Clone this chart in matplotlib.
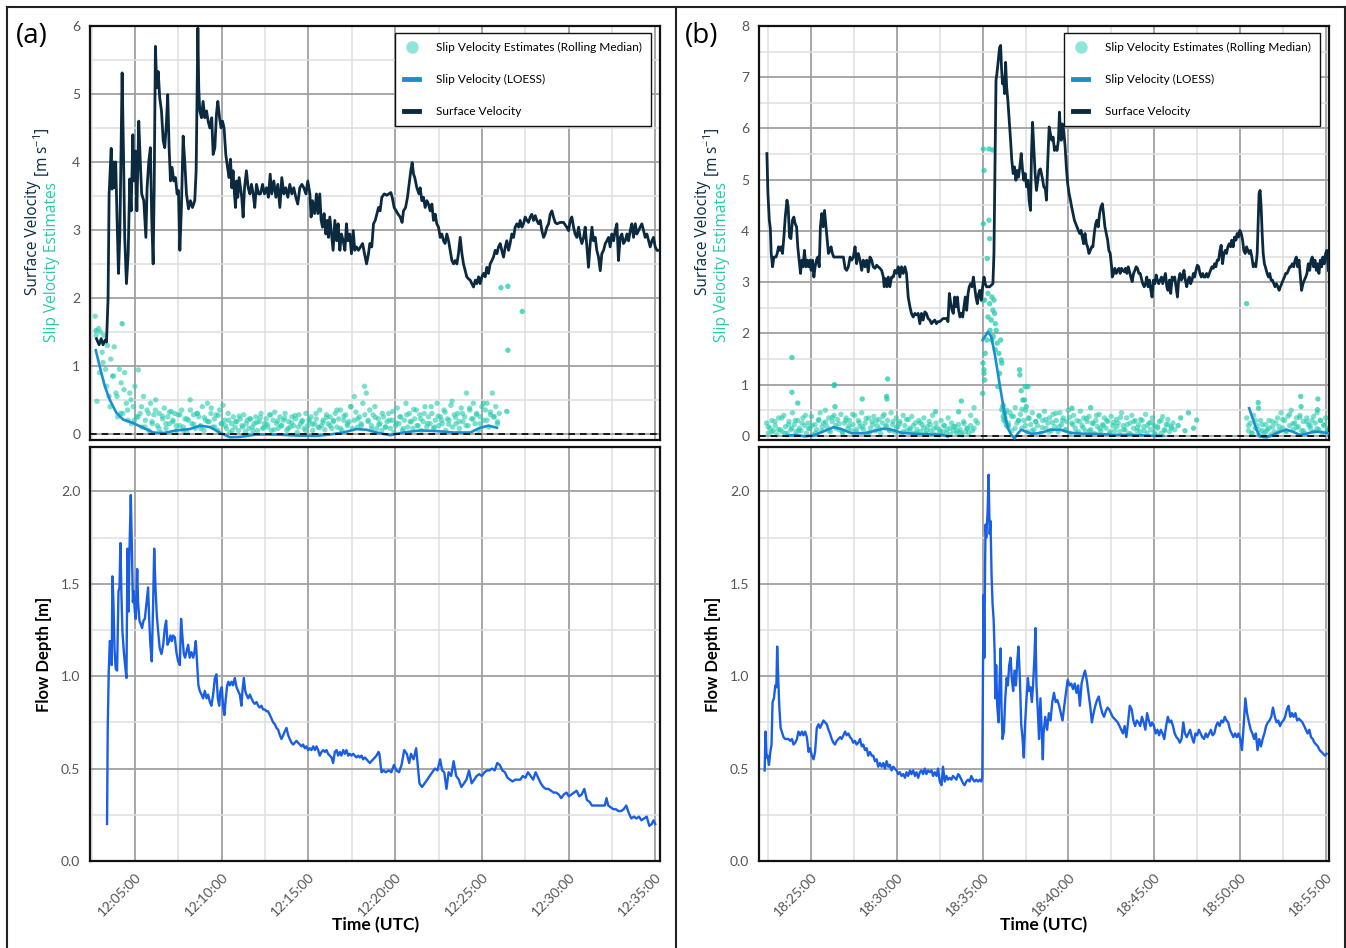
import numpy as np
import matplotlib
matplotlib.use("Agg")
import matplotlib.pyplot as plt
from matplotlib.ticker import MultipleLocator, FuncFormatter, FormatStrFormatter
from matplotlib.lines import Line2D

plt.rcParams['font.family'] = ['Lato', 'DejaVu Sans']
plt.rcParams['mathtext.fontset'] = 'custom'
plt.rcParams['mathtext.rm'] = 'Open Sans'

# ---------------- data (time = minutes after the full hour) ----------------
# panel (a): 12:xx
a_sv_t = [2.77, 2.92, 3.04, 3.15, 3.27, 3.35, 3.44, 3.50, 3.62, 3.67,
          3.77, 3.83, 3.88, 3.96, 4.04, 4.12, 4.25, 4.33, 4.40, 4.50,
          4.60, 4.69, 4.77, 4.87, 4.94, 5.02, 5.10, 5.21, 5.31, 5.38,
          5.50, 5.62, 5.69, 5.79, 5.88, 5.96, 6.04, 6.10, 6.17, 6.25,
          6.33, 6.42, 6.52, 6.62, 6.71, 6.81, 6.88, 6.96, 7.04, 7.13,
          7.23, 7.33, 7.42, 7.50, 7.58, 7.67, 7.77, 7.87, 7.96, 8.08,
          8.19, 8.31, 8.44, 8.52, 8.58, 8.62, 8.67, 8.73, 8.83, 8.92,
          9.02, 9.12, 9.21, 9.31, 9.42, 9.50, 9.60, 9.69, 9.77, 9.87,
          9.96, 10.04, 10.13, 10.23, 10.33, 10.42, 10.50, 10.58, 10.65, 10.73,
          10.79, 10.85, 10.92, 11.00, 11.08, 11.15, 11.23, 11.31, 11.42, 11.52,
          11.62, 11.71, 11.81, 11.90, 12.00, 12.12, 12.23, 12.35, 12.46, 12.58,
          12.69, 12.79, 12.88, 13.00, 13.12, 13.23, 13.35, 13.46, 13.58, 13.69,
          13.81, 13.92, 14.04, 14.15, 14.27, 14.38, 14.50, 14.62, 14.73, 14.85,
          14.96, 15.08, 15.15, 15.23, 15.35, 15.46, 15.54, 15.65, 15.73, 15.81,
          15.90, 16.00, 16.08, 16.15, 16.23, 16.33, 16.42, 16.52, 16.62, 16.71,
          16.81, 16.90, 17.00, 17.10, 17.19, 17.27, 17.38, 17.48, 17.58, 17.67,
          17.77, 17.88, 18.00, 18.12, 18.23, 18.35, 18.46, 18.54,
          18.65, 18.75, 18.85, 18.94, 19.04, 19.13, 19.23, 19.37, 19.52, 19.63,
          19.75, 19.83, 19.94, 20.06, 20.17, 20.29, 20.40, 20.48, 20.60, 20.71,
          20.83, 20.90, 20.98, 21.06, 21.13, 21.25, 21.37, 21.44, 21.54, 21.63,
          21.73, 21.83, 21.92, 22.02, 22.12, 22.21, 22.31, 22.40, 22.50, 22.60,
          22.69, 22.79, 22.88, 22.98, 23.08, 23.17, 23.27, 23.37, 23.46, 23.56,
          23.65, 23.75, 23.85, 23.94, 24.04, 24.13, 24.23, 24.33, 24.42, 24.52,
          24.62, 24.71, 24.81, 24.90, 25.00, 25.10, 25.19, 25.29, 25.38, 25.48,
          25.58, 25.67, 25.77, 25.87, 25.96, 26.06, 26.15, 26.25, 26.35, 26.44,
          26.54, 26.63, 26.73, 26.83, 26.92, 27.02, 27.12, 27.21, 27.31, 27.40,
          27.50, 27.60, 27.69, 27.79, 27.88, 27.98, 28.08, 28.17, 28.27, 28.37,
          28.46, 28.56, 28.65, 28.75, 28.85, 28.94, 29.04, 29.13, 29.23, 29.33,
          29.52, 29.71, 29.90, 30.00, 30.10, 30.19, 30.29, 30.38, 30.48, 30.58,
          30.67, 30.77, 30.87, 30.96, 31.06, 31.15, 31.25, 31.35, 31.44, 31.54,
          31.63, 31.73, 31.83, 31.92, 32.02, 32.12, 32.21, 32.31, 32.40, 32.50,
          32.60, 32.69, 32.79, 32.88, 32.98, 33.08, 33.17, 33.27, 33.37, 33.46,
          33.56, 33.65, 33.75, 33.85, 33.94, 34.04, 34.13, 34.23, 34.33, 34.42,
          34.52, 34.62, 34.71, 34.81, 34.90, 35.00, 35.10, 35.25]
a_sv = [1.40, 1.31, 1.40, 1.31, 1.38, 1.35, 2.00, 3.53, 4.20, 3.60,
        4.00, 3.62, 4.00, 3.14, 2.36, 2.94, 5.31, 4.11, 2.89, 2.21,
        2.65, 3.75, 3.28, 4.40, 3.72, 4.16, 3.28, 4.60, 3.92, 3.53,
        3.43, 2.89, 3.62, 4.01, 4.21, 3.14, 2.50, 3.62, 5.70, 5.09,
        5.33, 4.94, 4.75, 4.31, 4.21, 4.60, 4.99, 4.21, 3.72, 3.92,
        3.72, 3.77, 3.53, 3.58, 2.70, 3.33, 4.38, 3.97, 3.53, 3.31,
        3.43, 3.33, 3.43, 3.87, 5.09, 5.97, 5.09, 4.75, 4.65, 4.89,
        4.65, 4.75, 4.60, 4.50, 4.65, 4.11, 4.21, 4.70, 4.89, 4.65,
        4.50, 4.60, 4.50, 4.11, 3.92, 3.77, 4.04, 3.62, 3.87, 3.53,
        3.33, 3.72, 3.48, 3.77, 3.62, 3.48, 3.19, 3.62, 3.87, 3.62,
        3.53, 3.67, 3.53, 3.33, 3.67, 3.53, 3.53, 3.67, 3.53, 3.62,
        3.48, 3.82, 3.53, 3.72, 3.48, 3.67, 3.33, 3.77, 3.53, 3.62,
        3.48, 3.67, 3.53, 3.62, 3.48, 3.38, 3.62, 3.67, 3.62, 3.53,
        3.72, 3.53, 3.19, 3.43, 3.24, 3.53, 3.24, 3.53, 3.14, 3.04,
        3.24, 2.94, 3.14, 2.89, 3.19, 2.94, 2.70, 3.14, 2.84, 3.09,
        2.70, 2.94, 2.84, 2.70, 3.09, 2.84, 2.94, 2.65, 2.99, 2.70,
        2.75, 2.70, 2.75, 2.80, 2.65, 2.50, 2.65, 2.80,
        2.75, 3.09, 3.14, 3.23, 3.33, 3.28, 3.48, 3.53, 3.51, 3.53,
        3.55, 3.48, 3.33, 3.28, 3.23, 3.19, 3.11, 3.28, 3.33, 3.48,
        3.72, 3.87, 3.99, 3.82, 3.77, 3.62, 3.53, 3.62, 3.43, 3.48,
        3.33, 3.43, 3.38, 3.28, 3.38, 3.14, 3.23, 3.09, 3.04, 2.89,
        2.94, 2.84, 2.80, 2.94, 2.84, 2.70, 2.55, 2.50, 2.55, 2.50,
        2.65, 2.89, 2.65, 2.50, 2.40, 2.31, 2.28, 2.26, 2.21, 2.16,
        2.26, 2.21, 2.31, 2.21, 2.31, 2.36, 2.31, 2.45, 2.36, 2.50,
        2.55, 2.60, 2.70, 2.65, 2.75, 2.80, 2.70, 2.60, 2.75, 2.84,
        2.70, 2.80, 2.94, 2.89, 3.04, 3.09, 3.04, 3.14, 3.04, 3.09,
        3.19, 3.14, 3.11, 3.19, 3.23, 3.14, 3.21, 3.14, 3.09, 3.14,
        2.99, 2.89, 2.94, 3.04, 3.09, 3.23, 3.28, 3.19, 3.11, 3.09,
        3.11, 3.11, 3.04, 2.99, 3.14, 3.19, 3.04, 2.94, 2.89, 3.04,
        2.89, 2.80, 2.89, 3.04, 2.75, 2.45, 2.80, 3.04, 2.84, 2.89,
        2.70, 2.60, 2.40, 2.65, 2.70, 2.80, 2.84, 2.89, 2.75, 2.94,
        2.84, 2.99, 3.09, 2.55, 2.89, 2.94, 2.80, 2.84, 2.94, 2.84,
        2.99, 3.09, 2.89, 3.09, 2.94, 2.99, 3.04, 3.09, 2.99, 2.89,
        2.94, 2.84, 2.75, 2.84, 2.89, 2.75, 2.70, 2.70]

a_loess_t = [2.73, 2.96, 3.25, 3.54, 3.92, 4.31, 4.88, 5.46, 6.04, 6.62,
             7.38, 8.15, 8.73, 9.31, 9.88, 10.46, 11.04, 12.00, 13.15, 14.31,
             15.46, 16.23, 17.00, 17.77, 18.35, 18.92, 19.71, 20.48, 21.44, 22.40,
             23.37, 24.33, 24.90, 25.38, 25.87]
a_loess = [1.23, 0.99, 0.70, 0.50, 0.31, 0.21, 0.16, 0.09, 0.02, 0.01,
           0.05, 0.07, 0.12, 0.10, 0.02, -0.05, -0.045, -0.01, -0.01, -0.025,
           -0.03, -0.01, 0.02, 0.07, 0.06, 0.02, -0.02, 0.02, 0.05, 0.04,
           0.02, 0.02, 0.09, 0.12, 0.09]

# rolling-median slip estimates: evenly spaced runs (values) over a time span
a_slip1 = [1.73, 0.48, 1.55, 1.50, 1.20, 1.45, 0.95, 1.30, 0.55, 1.10,
           0.85, 1.28, 0.60, 0.25, 0.95, 0.75, 0.30, 0.90, 0.45, 0.20,
           0.60, 0.15, 0.40, 0.70, 0.25, 0.94, 0.30, 0.10, 0.55, 0.20,
           0.35, 0.05, 0.45, 0.15, 0.28, 0.50, 0.12, 0.30, 0.02, 0.22,
           0.38, 0.08, 0.25, 0.15, 0.33, 0.18, 0.30, 0.05, 0.28, 0.12,
           0.35, 0.10, 0.22, 0.02, 0.20, 0.50, 0.15, 0.28, 0.08, 0.30,
           0.25, 0.12, 0.40, 0.05, 0.20, 0.45, 0.18, 0.30, 0.10, 0.22,
           0.28, 0.05, 0.35, 0.15, 0.42, 0.20, 0.08, 0.30, 0.02, 0.15,
           0.25, 0.10, 0.18, 0.05, 0.22, 0.12, 0.28, 0.03, 0.20, 0.08,
           0.22, 0.10, 0.15, 0.25, 0.05, 0.18, 0.30, 0.08, 0.15, 0.22,
           0.10, 0.28, 0.05, 0.20, 0.32, 0.15, 0.08, 0.25, 0.12, 0.20,
           0.30, 0.05, 0.18, 0.10, 0.25, 0.12, 0.22, 0.02, 0.28, 0.15,
           0.20, 0.08, 0.30, 0.12, 0.18, 0.25, 0.05, 0.15, 0.22, 0.10,
           0.35, 0.12, 0.20, 0.06, 0.28, 0.15, 0.25, 0.08, 0.18, 0.30,
           0.10, 0.22, 0.35, 0.05, 0.20, 0.28, 0.12, 0.18, 0.40, 0.08,
           0.20, 0.32, 0.10, 0.25, 0.15, 0.45, 0.70, 0.60, 0.20, 0.35,
           0.12, 0.28, 0.40, 0.08, 0.22, 0.15, 0.05, 0.25, 0.10, 0.18,
           0.30, 0.08, 0.20, 0.02, 0.12, 0.38, 0.15, 0.25, 0.05, 0.20,
           0.45, 0.10, 0.30, 0.18, 0.08, 0.22, 0.35, 0.12, 0.28, 0.05,
           0.18, 0.40, 0.10, 0.25, 0.15, 0.30, 0.08, 0.20, 0.45, 0.12,
           0.25, 0.15, 0.35, 0.05, 0.22, 0.20, 0.42, 0.10, 0.28, 0.15,
           0.30, 0.08, 0.38, 0.18, 0.25, 0.60, 0.12, 0.35, 0.22, 0.45,
           0.15, 0.30, 0.05, 0.25, 0.40, 0.20, 0.35, 0.45, 0.10, 0.28,
           0.60, 0.25, 0.40, 0.15, 0.30]
a_slip1_span = (2.70, 26.0)
a_slip2 = [1.45, 0.90, 1.05, 0.70, 0.40, 0.85, 0.55, 0.30, 0.65, 0.35, 0.50, 0.20,
           0.25, 0.40, 0.10, 0.30, 0.18, 0.35, 0.08, 0.26, 0.15, 0.32,
           0.20, 0.12, 0.28, 0.05, 0.22, 0.35, 0.14, 0.30, 0.08, 0.24,
           0.18, 0.38, 0.10, 0.27, 0.15,
           0.12, 0.20, 0.05, 0.18, 0.26, 0.10, 0.15, 0.22, 0.04, 0.17,
           0.24, 0.09, 0.14, 0.28, 0.06, 0.19, 0.12, 0.23, 0.08, 0.16,
           0.27, 0.10, 0.18, 0.05, 0.21, 0.14, 0.30, 0.09, 0.17, 0.24,
           0.12, 0.20, 0.35, 0.08, 0.26, 0.15, 0.40, 0.55, 0.22, 0.12,
           0.28, 0.18, 0.07, 0.24, 0.14, 0.30, 0.10, 0.20, 0.33, 0.16,
           0.25, 0.08, 0.28, 0.18, 0.36, 0.12, 0.22, 0.30, 0.15, 0.40,
           0.10, 0.26, 0.20, 0.32, 0.14, 0.48, 0.24, 0.18, 0.30, 0.12,
           0.38, 0.22, 0.28, 0.15, 0.45, 0.20, 0.32, 0.25, 0.18]
a_slip2_span = (2.75, 25.9)
a_slip_x_t = [2.75, 4.25, 26.10, 26.50, 26.50, 26.44, 27.33]
a_slip_x = [1.52, 1.62, 2.15, 2.17, 1.23, 0.33, 1.80]

a_depth_t = [3.38, 3.42, 3.48, 3.54, 3.60, 3.65, 3.69, 3.75, 3.81, 3.88,
             3.96, 4.04, 4.10, 4.15, 4.21, 4.27, 4.35, 4.42, 4.50, 4.56,
             4.62, 4.67, 4.75, 4.81, 4.87, 4.92, 4.98, 5.04, 5.12, 5.17,
             5.25, 5.33, 5.40, 5.48, 5.56, 5.65, 5.75, 5.81, 5.88, 5.96,
             6.04, 6.10, 6.17, 6.25, 6.33, 6.42, 6.52, 6.62, 6.71, 6.79,
             6.87, 6.96, 7.04, 7.12, 7.19, 7.29, 7.38, 7.48, 7.58, 7.65,
             7.73, 7.81, 7.88, 7.96, 8.06, 8.15, 8.25, 8.35, 8.42, 8.50,
             8.58, 8.65, 8.73, 8.83, 8.92, 9.02, 9.12, 9.21, 9.31, 9.40,
             9.50, 9.60, 9.69, 9.77, 9.85, 9.92, 10.00, 10.08, 10.15, 10.23,
             10.31, 10.38, 10.46, 10.56, 10.65, 10.75, 10.85, 10.94, 11.04, 11.13,
             11.19, 11.27, 11.35, 11.42, 11.52, 11.62, 11.71, 11.81, 11.90, 12.00,
             12.10, 12.19, 12.29, 12.38, 12.48, 12.58, 12.67, 12.77, 12.87, 12.96,
             13.06, 13.15, 13.25, 13.35, 13.44, 13.54, 13.63, 13.73, 13.83, 13.92,
             14.02, 14.12, 14.21, 14.31, 14.40, 14.50, 14.60, 14.69, 14.79, 14.88,
             14.98, 15.08, 15.17, 15.27, 15.37, 15.46, 15.56, 15.65, 15.75, 15.85,
             15.94, 16.04, 16.13, 16.23, 16.33, 16.42, 16.52, 16.62, 16.71, 16.81,
             16.90, 17.00, 17.10, 17.19, 17.29, 17.38, 17.48, 17.58, 17.67, 17.77,
             17.87, 17.96, 18.06, 18.15, 18.25, 18.35, 18.44, 18.54, 18.63, 18.73,
             18.83, 18.92, 19.04,
             19.09, 19.21, 19.33, 19.46, 19.63, 19.78, 19.93, 20.07, 20.22, 20.37,
             20.52, 20.67, 20.81, 20.91, 21.06, 21.21, 21.31, 21.40, 21.55, 21.70,
             21.85, 21.99, 22.14, 22.29, 22.44, 22.59, 22.71, 22.83, 22.96, 23.08,
             23.23, 23.37, 23.52, 23.67, 23.82, 23.97, 24.11, 24.26, 24.41, 24.56,
             24.70, 24.85, 25.00, 25.15, 25.30, 25.44, 25.59, 25.74, 25.89, 26.03,
             26.18, 26.33, 26.48, 26.63, 26.77, 26.92, 27.07, 27.22, 27.36, 27.51,
             27.66, 27.81, 27.96, 28.10, 28.25, 28.40, 28.55, 28.69, 28.84, 28.99,
             29.14, 29.29, 29.43, 29.58, 29.73, 29.88, 30.02, 30.17, 30.32, 30.47,
             30.62, 30.76, 30.91, 31.06, 31.21, 31.35, 31.50, 31.65, 31.80, 31.95,
             32.09, 32.19, 32.29, 32.44, 32.59, 32.73, 32.88, 33.03, 33.18, 33.33,
             33.47, 33.62, 33.77, 33.92, 34.06, 34.21, 34.36, 34.51, 34.66, 34.80,
             34.90, 35.00]
a_depth = [0.20, 0.72, 1.03, 1.19, 1.17, 1.06, 1.54, 1.40, 1.15, 1.04,
           1.03, 1.46, 1.48, 1.72, 1.44, 1.24, 1.13, 1.06, 0.99, 1.69,
           1.35, 1.66, 1.98, 1.71, 1.40, 1.46, 1.35, 1.31, 1.58, 1.40,
           1.30, 1.28, 1.26, 1.30, 1.31, 1.39, 1.48, 1.31, 1.17, 1.08,
           1.40, 1.69, 1.49, 1.33, 1.24, 1.15, 1.12, 1.17, 1.26, 1.30,
           1.17, 1.19, 1.22, 1.19, 1.22, 1.21, 1.13, 1.08, 1.06, 1.31,
           1.21, 1.12, 1.10, 1.13, 1.17, 1.10, 1.13, 1.10, 1.13, 1.19,
           1.06, 0.95, 0.92, 0.90, 0.88, 0.92, 0.88, 0.90, 0.86, 0.84,
           0.90, 0.99, 1.01, 0.88, 0.84, 0.92, 0.94, 0.83, 0.79, 0.88,
           0.95, 0.97, 0.95, 0.97, 0.95, 0.99, 0.94, 0.92, 0.90, 0.84,
           0.92, 0.99, 0.92, 0.90, 0.88, 0.90, 0.88, 0.86, 0.85, 0.86,
           0.84, 0.83, 0.84, 0.82, 0.82, 0.81, 0.81, 0.79, 0.77, 0.75,
           0.74, 0.72, 0.71, 0.68, 0.66, 0.68, 0.70, 0.72, 0.68, 0.66,
           0.64, 0.63, 0.64, 0.65, 0.64, 0.63, 0.62, 0.63, 0.61, 0.62,
           0.60, 0.61, 0.60, 0.62, 0.60, 0.62, 0.60, 0.57, 0.59, 0.60,
           0.59, 0.60, 0.58, 0.57, 0.56, 0.53, 0.59, 0.60, 0.57, 0.59,
           0.57, 0.60, 0.58, 0.60, 0.57, 0.58, 0.57, 0.58, 0.57, 0.56,
           0.57, 0.56, 0.57, 0.55, 0.56, 0.55, 0.54, 0.53, 0.54, 0.55,
           0.56, 0.57, 0.59,
           0.58, 0.48, 0.49, 0.48, 0.49, 0.48, 0.52, 0.49, 0.48, 0.52,
           0.60, 0.58, 0.53, 0.58, 0.55, 0.61, 0.51, 0.42, 0.40, 0.42,
           0.44, 0.46, 0.48, 0.50, 0.49, 0.55, 0.49, 0.48, 0.39, 0.48,
           0.46, 0.54, 0.46, 0.44, 0.40, 0.42, 0.44, 0.49, 0.42, 0.44,
           0.46, 0.47, 0.46, 0.48, 0.49, 0.49, 0.50, 0.49, 0.53, 0.52,
           0.49, 0.48, 0.45, 0.44, 0.43, 0.44, 0.44, 0.44, 0.46, 0.45,
           0.48, 0.46, 0.44, 0.48, 0.45, 0.42, 0.40, 0.39, 0.39, 0.38,
           0.37, 0.37, 0.36, 0.34, 0.36, 0.37, 0.35, 0.36, 0.37, 0.38,
           0.35, 0.36, 0.39, 0.33, 0.32, 0.30, 0.30, 0.30, 0.30, 0.30,
           0.30, 0.34, 0.30, 0.29, 0.28, 0.28, 0.27, 0.27, 0.28, 0.30,
           0.26, 0.23, 0.24, 0.23, 0.24, 0.22, 0.23, 0.24, 0.19, 0.20,
           0.22, 0.20]

# panel (b): 18:xx
b_sv_t = [22.42, 22.48, 22.56, 22.62, 22.67, 22.75, 22.83, 22.95, 23.02, 23.10,
          23.18, 23.26, 23.33, 23.41, 23.49, 23.59, 23.66, 23.74, 23.82, 23.91,
          23.99, 24.07, 24.15, 24.22, 24.30, 24.38, 24.46, 24.53, 24.61, 24.69,
          24.77, 24.84, 24.92, 25.00, 25.08, 25.16, 25.23, 25.31, 25.39, 25.47,
          25.54, 25.62, 25.70, 25.78, 25.85, 25.93, 26.01, 26.09, 26.16, 26.24,
          26.32, 26.49, 26.69, 26.88, 26.98, 27.07, 27.17, 27.27, 27.36, 27.46,
          27.56, 27.65, 27.75, 27.85, 27.95, 28.04, 28.14, 28.24, 28.33, 28.43,
          28.53, 28.62, 28.72, 28.82, 28.91, 29.01, 29.11, 29.21, 29.26, 29.34,
          29.42, 29.50, 29.59, 29.69, 29.79, 29.88, 29.98, 30.08, 30.17, 30.27,
          30.37, 30.47, 30.56, 30.66, 30.76, 30.85, 30.95, 31.05, 31.14, 31.24,
          31.34, 31.43, 31.53, 31.63, 31.72, 31.82, 31.92, 32.02, 32.11, 32.21,
          32.31, 32.40, 32.50, 32.60, 32.69, 32.79, 32.89, 32.98, 33.06, 33.14,
          33.22, 33.29, 33.37, 33.45, 33.53, 33.60, 33.68, 33.76, 33.84, 33.91,
          33.99, 34.07, 34.15, 34.22, 34.30, 34.38, 34.46, 34.53, 34.61, 34.69,
          34.77, 34.84, 34.92, 35.00, 35.08, 35.15, 35.23, 35.31, 35.41, 35.50,
          35.60, 35.66, 35.72, 35.78, 35.83, 35.91, 35.99, 36.05, 36.10, 36.16,
          36.22, 36.28, 36.34, 36.40, 36.47, 36.55, 36.63, 36.70, 36.78, 36.86,
          36.94, 37.02, 37.09, 37.17, 37.25, 37.33, 37.40, 37.48, 37.56, 37.64,
          37.71, 37.79, 37.85, 37.91, 37.98, 38.06, 38.14, 38.22, 38.29, 38.37,
          38.47, 38.57, 38.66, 38.72, 38.80, 38.88, 38.95, 39.03, 39.11, 39.19,
          39.26, 39.34, 39.42, 39.48, 39.53, 39.59, 39.65, 39.73, 39.81, 39.88,
          39.96, 40.04, 40.12, 40.19, 40.27, 40.35, 40.43, 40.50, 40.58, 40.66,
          40.74, 40.81, 40.89, 40.97, 41.05, 41.12, 41.20, 41.28, 41.36, 41.43,
          41.51, 41.59, 41.67, 41.74, 41.82, 41.90, 41.98, 42.05, 42.13, 42.21,
          42.29, 42.36, 42.44, 42.52, 42.56, 42.64, 42.71, 42.79, 42.87, 42.95,
          43.02, 43.10, 43.18, 43.26, 43.33, 43.41, 43.49, 43.57, 43.64, 43.72,
          43.80, 43.88, 43.95, 44.03, 44.11, 44.19, 44.26, 44.34, 44.42, 44.50,
          44.57, 44.65, 44.73, 44.81, 44.88, 44.96, 45.04, 45.12, 45.19, 45.27,
          45.35, 45.43, 45.50, 45.58, 45.66, 45.74, 45.81, 45.89, 45.97, 46.05,
          46.12, 46.20, 46.28, 46.36, 46.43, 46.51, 46.59, 46.67, 46.74, 46.82,
          46.90, 46.98, 47.05, 47.13, 47.21, 47.29, 47.36, 47.44, 47.52, 47.60,
          47.67, 47.75, 47.83, 47.91, 47.98, 48.06, 48.14, 48.22, 48.29, 48.37,
          48.45, 48.53, 48.60, 48.68, 48.76, 48.84, 48.91, 48.99, 49.07, 49.15,
          49.22, 49.30, 49.38, 49.46, 49.53, 49.61, 49.69, 49.77, 49.84, 49.92,
          50.00, 50.08, 50.16, 50.23, 50.31, 50.39, 50.47, 50.54, 50.62, 50.70,
          50.78, 50.85, 50.93, 51.01, 51.07, 51.12, 51.18, 51.24, 51.30, 51.36,
          51.43, 51.51, 51.59, 51.67, 51.74, 51.82, 51.90, 51.98, 52.05, 52.13,
          52.21, 52.29, 52.36, 52.44, 52.52, 52.60, 52.67, 52.75, 52.83, 52.91,
          52.98, 53.06, 53.14, 53.22, 53.29, 53.37, 53.45, 53.53, 53.60, 53.68,
          53.76, 53.84, 53.91, 53.99, 54.07, 54.15, 54.22, 54.30, 54.38, 54.46,
          54.53, 54.61, 54.69, 54.77, 54.84, 54.92, 55.00, 55.08, 55.16]
b_sv = [5.51, 4.73, 4.21, 4.05, 3.56, 3.30, 3.49, 3.49, 3.56, 3.69,
        3.62, 3.69, 3.56, 3.88, 4.27, 4.60, 4.47, 3.88, 3.85, 4.21,
        4.27, 4.14, 4.08, 3.69, 3.43, 3.17, 3.43, 3.30, 3.62, 3.30,
        3.43, 3.30, 3.43, 3.23, 3.43, 3.10, 3.30, 3.43, 3.49, 3.30,
        4.08, 4.34, 4.08, 4.40, 4.14, 3.82, 3.56, 3.62, 3.69, 3.56,
        3.49, 3.49, 3.49, 3.49, 3.27, 3.23, 3.30, 3.49, 3.43, 3.49,
        3.69, 3.36, 3.56, 3.43, 3.23, 3.43, 3.30, 3.43, 3.20, 3.49,
        3.43, 3.30, 3.27, 3.33, 3.30, 3.27, 3.23, 3.10, 2.91, 3.07,
        2.91, 3.10, 2.91, 3.10, 3.10, 3.23, 3.17, 3.30, 3.10, 3.30,
        3.17, 3.30, 3.17, 2.71, 2.52, 2.39, 2.32, 2.39, 2.36, 2.39,
        2.19, 2.39, 2.26, 2.42, 2.39, 2.29, 2.26, 2.19, 2.23, 2.26,
        2.19, 2.23, 2.23, 2.26, 2.29, 2.29, 2.29, 2.23, 2.78, 2.58,
        2.45, 2.39, 2.71, 2.52, 2.71, 2.45, 2.32, 2.39, 2.32, 2.52,
        2.71, 2.45, 2.78, 2.91, 2.97, 2.91, 3.10, 2.91, 2.71, 2.58,
        2.78, 2.84, 2.65, 2.91, 3.10, 2.97, 2.91, 2.91, 2.91, 2.94,
        2.97, 3.56, 5.18, 6.94, 7.06, 7.32, 7.58, 7.62, 7.19, 6.87,
        7.00, 6.68, 7.29, 6.81, 6.55, 6.16, 5.77, 5.38, 5.12, 5.25,
        4.99, 5.18, 5.05, 5.25, 5.51, 5.18, 4.99, 5.12, 4.86, 4.99,
        4.60, 4.40, 5.51, 6.12, 5.64, 5.12, 4.79, 4.99, 5.18, 5.21,
        5.05, 4.86, 4.82, 4.60, 5.38, 6.03, 5.90, 5.77, 5.83, 5.57,
        5.64, 5.57, 5.77, 6.32, 5.96, 5.77, 6.09, 5.96, 5.64, 5.25,
        4.92, 4.73, 4.60, 4.47, 4.34, 4.21, 4.14, 4.08, 4.01, 3.95,
        4.01, 3.88, 3.75, 3.95, 3.75, 3.69, 3.56, 3.62, 3.69, 3.69,
        3.95, 4.14, 4.21, 4.08, 4.34, 4.47, 4.53, 4.34, 4.08, 3.95,
        3.82, 3.62, 3.56, 3.30, 3.10, 3.17, 3.27, 3.17, 3.23, 3.27,
        3.17, 3.27, 3.23, 3.20, 3.27, 3.17, 3.30, 3.20, 3.10, 3.01,
        3.17, 3.23, 3.30, 3.27, 3.17, 3.17, 3.07, 2.97, 2.91, 2.97,
        3.10, 2.91, 3.04, 2.84, 2.71, 3.04, 2.97, 3.14, 3.04, 2.97,
        3.04, 3.10, 2.97, 3.07, 3.17, 2.91, 2.84, 3.04, 2.78, 3.10,
        3.04, 3.10, 2.91, 2.71, 3.04, 3.17, 3.04, 3.10, 3.23, 3.04,
        2.91, 3.04, 3.10, 2.97, 3.04, 3.17, 3.10, 3.23, 3.33, 3.30,
        3.17, 3.10, 3.17, 3.10, 3.10, 3.17, 3.10, 3.17, 3.23, 3.30,
        3.27, 3.36, 3.30, 3.43, 3.43, 3.62, 3.72, 3.36, 3.56, 3.62,
        3.56, 3.69, 3.75, 3.69, 3.82, 3.69, 3.88, 3.82, 3.95, 3.88,
        4.01, 3.95, 3.82, 3.62, 3.56, 3.69, 3.62, 3.56, 3.62, 3.49,
        3.30, 3.36, 3.30, 3.56, 4.21, 4.73, 4.79, 4.47, 3.95, 3.56,
        3.36, 3.27, 3.17, 3.10, 3.17, 3.04, 3.04, 2.97, 2.91, 2.97,
        2.91, 2.84, 2.91, 2.97, 3.04, 3.10, 3.17, 3.17, 3.23, 3.30,
        3.30, 3.36, 3.30, 3.43, 3.49, 3.30, 3.43, 3.10, 2.84, 2.97,
        3.04, 3.10, 3.17, 3.36, 3.23, 3.43, 3.49, 3.30, 3.43, 3.23,
        3.36, 3.17, 3.43, 3.30, 3.49, 3.36, 3.56, 3.62, 3.23]

b_loess1_t = [23.60, 24.07, 24.65, 25.23, 25.81, 26.30, 26.78, 27.36, 28.14, 28.72,
              29.21, 29.69, 30.27, 31.05, 31.82, 32.60, 32.98]
b_loess1 = [0.00, 0.02, -0.01, 0.02, 0.10, 0.17, 0.13, 0.05, 0.05, 0.10,
            0.14, 0.12, 0.06, 0.04, 0.03, 0.02, -0.01]
b_loess2_t = [35.00, 35.31, 35.50, 35.70, 35.89, 36.08, 36.28, 36.47, 36.67, 36.86,
              37.06, 37.25, 37.54, 37.83, 38.22, 38.60, 38.95, 39.53, 40.12, 40.89,
              41.67, 42.64, 43.80, 44.96, 45.54]
b_loess2 = [1.87, 2.03, 1.94, 1.61, 1.22, 0.83, 0.44, 0.15, 0.02, -0.05,
            0.05, 0.12, 0.08, 0.04, 0.05, 0.08, 0.12, 0.12, 0.06, 0.04,
            0.04, 0.02, 0.02, 0.00, 0.00]
b_loess3_t = [50.54, 50.78, 50.97, 51.16, 51.55, 51.94, 52.33, 52.71, 53.10, 53.49,
              53.88, 54.26, 54.65, 55.16]
b_loess3 = [0.54, 0.31, 0.12, -0.01, -0.03, 0.02, 0.08, 0.12, 0.08, 0.02,
            0.04, 0.08, 0.08, 0.05]

b_slip1 = [0.25, 0.05, 0.15, 0.30, 0.10, 0.20, 0.02, 0.35, 0.12, 0.08,
           0.40, 0.18, 0.05, 0.28, 0.12, 0.45, 0.22, 0.08, 0.30, 0.15,
           0.10, 0.35, 0.20, 0.05, 0.25, 0.15, 0.38, 0.02, 0.22, 0.12,
           0.30, 0.45, 0.10, 0.25, 0.50, 0.18, 0.35, 0.08, 0.28, 0.40,
           0.20, 0.32, 0.12, 0.42, 0.05, 0.25, 0.35, 0.15, 0.30, 0.10,
           0.22, 0.40, 0.08, 0.30, 0.18, 0.45, 0.12, 0.25, 0.05, 0.35,
           0.15, 0.28, 0.38, 0.10, 0.20, 0.32, 0.05, 0.25, 0.42, 0.18,
           0.30, 0.12, 0.45, 0.22, 0.08, 0.35, 0.18, 0.28, 0.05, 0.40,
           0.20, 0.10, 0.32, 0.15, 0.38, 0.05, 0.25, 0.12, 0.30, 0.08,
           0.22, 0.35, 0.05, 0.18, 0.28, 0.10, 0.40, 0.15, 0.25, 0.02,
           0.12, 0.30, 0.08, 0.20, 0.05, 0.35, 0.15, 0.25, 0.10, 0.18,
           0.05, 0.22, 0.12, 0.02, 0.28, 0.08, 0.15, 0.05, 0.20, 0.10,
           0.15, 0.30, 0.25]
b_slip1_span = (22.4, 34.7)
b_slip2 = [0.60, 0.35, 0.50, 0.20, 0.45, 0.10, 0.38, 0.55, 0.25, 0.30,
           0.42, 0.15, 0.30, 0.50, 0.08, 0.35, 0.22, 0.45, 0.12, 0.28,
           0.20, 0.38, 0.05, 0.30, 0.48, 0.15, 0.25, 0.35, 0.10, 0.42,
           0.18, 0.30, 0.08, 0.45, 0.22, 0.35, 0.12, 0.28, 0.50, 0.05,
           0.25, 0.40, 0.15, 0.30, 0.08, 0.48, 0.20, 0.35, 0.10, 0.28,
           0.38, 0.12, 0.25, 0.05, 0.30, 0.18, 0.42, 0.10, 0.22, 0.35,
           0.15, 0.28, 0.05, 0.38, 0.20, 0.10, 0.32, 0.25, 0.08, 0.45,
           0.20, 0.12, 0.35, 0.05, 0.25, 0.40, 0.15, 0.30, 0.10, 0.22,
           0.08, 0.30, 0.18, 0.42, 0.05, 0.25, 0.12, 0.35, 0.20, 0.02,
           0.15, 0.28, 0.05, 0.38, 0.10, 0.22, 0.32, 0.08, 0.18, 0.25,
           0.12]
b_slip2_span = (36.2, 46.2)
b_slip3 = [0.35, 0.10, 0.25, 0.05, 0.40, 0.15, 0.20, 0.02, 0.30, 0.10,
           0.05, 0.22, 0.12, 0.30, 0.02, 0.18, 0.08, 0.25, 0.35, 0.10,
           0.45, 0.15, 0.30, 0.08, 0.38, 0.20, 0.50, 0.12, 0.25, 0.35,
           0.18, 0.40, 0.10, 0.28, 0.05, 0.35, 0.22, 0.15, 0.30, 0.08,
           0.25, 0.45, 0.12, 0.30, 0.05, 0.20, 0.35, 0.10, 0.15]
b_slip3_span = (50.4, 55.2)
b_slip4 = [0.18, 0.08, 0.28, 0.12, 0.35, 0.05, 0.22, 0.15, 0.30, 0.10,
           0.25, 0.40, 0.14, 0.20, 0.06, 0.32, 0.18, 0.27, 0.10, 0.36,
           0.15, 0.24, 0.08, 0.30, 0.20, 0.42, 0.12, 0.26, 0.18, 0.34,
           0.06, 0.22, 0.30, 0.14, 0.38, 0.20, 0.10, 0.28, 0.16, 0.24,
           0.08, 0.32, 0.12, 0.20, 0.05, 0.26, 0.15, 0.10, 0.22, 0.04,
           0.16, 0.08, 0.20, 0.12, 0.03, 0.18, 0.10, 0.06, 0.24, 0.14,
           0.40, 0.55]
b_slip4_span = (22.5, 34.5)
b_slip5 = [0.45, 0.25, 0.38, 0.15, 0.30, 0.52, 0.20, 0.34, 0.10, 0.28,
           0.40, 0.16, 0.32, 0.08, 0.26, 0.44, 0.18, 0.30, 0.12, 0.36,
           0.22, 0.06, 0.28, 0.16, 0.34, 0.10, 0.24, 0.40, 0.14, 0.20,
           0.30, 0.08, 0.26, 0.18, 0.36, 0.12, 0.22, 0.04, 0.28, 0.16,
           0.32, 0.10, 0.20, 0.26, 0.06, 0.18, 0.30, 0.12, 0.22, 0.15]
b_slip5_span = (36.3, 46.0)
b_slip6 = [0.20, 0.05, 0.30, 0.12, 0.22, 0.08, 0.15, 0.28, 0.04, 0.18,
           0.32, 0.10, 0.42, 0.24, 0.16, 0.36, 0.10, 0.28, 0.20, 0.38,
           0.14, 0.30, 0.22, 0.10]
b_slip6_span = (50.5, 55.1)
# surge column and isolated estimates
b_slip_x_t = [35.04, 35.58, 35.37, 35.08, 35.04, 35.37, 35.41, 35.27, 35.00, 35.12,
              35.31, 35.41, 35.54, 35.66, 35.60, 35.70, 35.50, 35.31, 35.74, 35.79,
              35.62, 35.85, 35.74, 35.95, 36.05, 36.08, 35.99, 36.12, 35.02, 35.08,
              35.12, 35.00, 35.08, 35.15, 35.25, 35.43, 35.54, 35.89, 36.18, 36.28,
              36.20, 36.32, 36.38, 36.47, 36.12, 36.24, 37.15, 37.17, 37.25, 37.48,
              37.64, 37.34, 37.44, 37.54, 23.88, 23.88, 26.34, 26.36, 29.46, 29.40,
              29.42, 26.39, 27.98, 24.22, 33.76, 33.60, 32.25, 50.39, 51.07, 51.09,
              53.55, 54.55, 53.57, 54.53, 40.21, 41.30, 46.40, 46.55, 46.80, 47.00,
              47.30, 47.48]
b_slip_x = [5.60, 5.58, 5.60, 5.18, 4.14, 4.21, 3.85, 3.46, 2.65, 2.65,
            2.78, 2.58, 2.71, 2.65, 2.45, 2.39, 2.26, 2.32, 2.19, 2.06,
            1.94, 1.81, 1.68, 1.61, 1.87, 1.48, 1.22, 1.42, 1.42, 1.22,
            1.09, 0.83, 1.29, 1.61, 1.87, 2.06, 1.87, 0.96, 0.57, 0.44,
            0.38, 0.28, 0.21, 0.18, 0.51, 0.31, 1.29, 1.19, 0.88, 0.96,
            0.96, 0.70, 0.70, 0.57, 1.53, 0.85, 0.98, 1.00, 1.11, 0.77,
            0.72, 0.57, 0.72, 0.64, 0.68, 0.47, 0.47, 2.58, 0.65, 0.54,
            0.77, 0.72, 0.57, 0.51, 0.54, 0.55, 0.20, 0.35, 0.10, 0.45,
            0.15, 0.31]

b_depth_t = [22.29, 22.34, 22.40, 22.46, 22.54, 22.62, 22.69, 22.75, 22.83, 22.91,
             22.97, 23.02, 23.08, 23.14, 23.22, 23.29, 23.39, 23.49, 23.59, 23.68,
             23.78, 23.88, 23.97, 24.07, 24.17, 24.26, 24.36, 24.46, 24.55, 24.65,
             24.75, 24.85, 24.94, 25.04, 25.14, 25.23, 25.33, 25.43, 25.52, 25.62,
             25.72, 25.81, 25.91, 26.01, 26.10, 26.20, 26.30, 26.39, 26.49, 26.59,
             26.69, 26.78, 26.88, 26.98, 27.07, 27.17, 27.27, 27.36, 27.46, 27.56,
             27.65, 27.75, 27.85, 27.95, 28.04, 28.14, 28.24, 28.33, 28.43, 28.53,
             28.62, 28.72, 28.82, 28.91, 29.01, 29.11, 29.21, 29.30, 29.40, 29.50,
             29.59, 29.69, 29.79, 29.88, 29.98, 30.08, 30.17, 30.27, 30.37, 30.47,
             30.56, 30.66, 30.76, 30.85, 30.95, 31.05, 31.14, 31.24, 31.34, 31.43,
             31.53, 31.63, 31.72, 31.82, 31.92, 32.02, 32.11, 32.21, 32.31, 32.40,
             32.50, 32.60, 32.69, 32.79, 32.89, 32.98, 33.08, 33.18, 33.27, 33.37,
             33.47, 33.57, 33.66, 33.76, 33.86, 33.95, 34.05, 34.15, 34.24, 34.34,
             34.44, 34.53, 34.63, 34.73, 34.83, 34.92, 34.98, 35.02, 35.06, 35.10,
             35.14, 35.17, 35.21, 35.25, 35.29, 35.35, 35.41, 35.46, 35.52, 35.58,
             35.64, 35.70, 35.74, 35.79, 35.85, 35.93, 35.99, 36.05, 36.10, 36.16,
             36.24, 36.32, 36.40, 36.47, 36.55, 36.63, 36.70, 36.78, 36.86, 36.94,
             37.02, 37.09, 37.17, 37.25, 37.33, 37.40, 37.48, 37.56, 37.64, 37.71,
             37.79, 37.87, 37.94, 38.02, 38.08, 38.14, 38.22, 38.29, 38.37, 38.45,
             38.51,
             38.55, 38.65, 38.76, 38.86, 38.96, 39.06, 39.16, 39.26, 39.36, 39.46,
             39.56, 39.66, 39.76, 39.86, 39.96, 40.07, 40.17, 40.27, 40.37, 40.47,
             40.57, 40.67, 40.77, 40.87, 40.97, 41.07, 41.17, 41.27, 41.37, 41.47,
             41.57, 41.67, 41.77, 41.87, 41.98, 42.08, 42.18, 42.28, 42.38, 42.48,
             42.58, 42.68, 42.78, 42.88, 42.98, 43.08, 43.18, 43.28, 43.38, 43.48,
             43.58, 43.69, 43.79, 43.89, 43.99, 44.09, 44.19, 44.29, 44.39, 44.49,
             44.59, 44.69, 44.79, 44.89, 44.99, 45.09, 45.19, 45.29, 45.39, 45.49,
             45.59, 45.70, 45.80, 45.90, 46.00, 46.10, 46.20, 46.30, 46.40, 46.50,
             46.60, 46.70, 46.80, 46.90, 47.00, 47.10, 47.20, 47.31, 47.41, 47.51,
             47.61, 47.71, 47.81, 47.91, 48.01, 48.11, 48.21, 48.31, 48.41, 48.51,
             48.61, 48.71, 48.82, 48.92, 49.02, 49.12, 49.22, 49.32, 49.42, 49.52,
             49.62, 49.72, 49.82, 49.92, 50.02, 50.12, 50.22, 50.32, 50.42, 50.53,
             50.63, 50.73, 50.83, 50.93, 51.03, 51.13, 51.23, 51.33, 51.43, 51.53,
             51.63, 51.73, 51.83, 51.93, 52.04, 52.14, 52.24, 52.34, 52.44, 52.54,
             52.64, 52.74, 52.84, 52.94, 53.04, 53.14, 53.24, 53.34, 53.44, 53.55,
             53.65, 53.75, 53.85, 53.95, 54.05, 54.15, 54.25, 54.35, 54.45, 54.55,
             54.65, 54.76, 54.86, 54.96, 55.06]
b_depth = [0.49, 0.70, 0.56, 0.57, 0.52, 0.59, 0.63, 0.86, 0.88, 0.95,
           0.94, 1.16, 0.99, 0.84, 0.72, 0.70, 0.67, 0.66, 0.66, 0.66,
           0.65, 0.66, 0.63, 0.64, 0.66, 0.70, 0.68, 0.70, 0.68, 0.70,
           0.67, 0.59, 0.61, 0.57, 0.55, 0.59, 0.72, 0.74, 0.72, 0.74,
           0.76, 0.75, 0.74, 0.71, 0.69, 0.66, 0.64, 0.63, 0.65, 0.66,
           0.67, 0.66, 0.68, 0.70, 0.68, 0.69, 0.67, 0.66, 0.64, 0.65,
           0.63, 0.64, 0.66, 0.62, 0.63, 0.60, 0.61, 0.57, 0.59, 0.57,
           0.57, 0.54, 0.55, 0.51, 0.53, 0.51, 0.53, 0.50, 0.54, 0.51,
           0.52, 0.49, 0.51, 0.50, 0.49, 0.47, 0.48, 0.46, 0.47, 0.45,
           0.48, 0.46, 0.49, 0.47, 0.49, 0.46, 0.48, 0.45, 0.48, 0.49,
           0.47, 0.50, 0.47, 0.49, 0.48, 0.49, 0.46, 0.48, 0.46, 0.50,
           0.43, 0.41, 0.51, 0.43, 0.46, 0.44, 0.45, 0.44, 0.46, 0.45,
           0.44, 0.47, 0.46, 0.44, 0.42, 0.41, 0.43, 0.44, 0.43, 0.46,
           0.44, 0.43, 0.44, 0.43, 0.44, 0.43, 0.45, 1.03, 1.44, 1.10,
           1.57, 1.82, 1.75, 1.82, 1.89, 2.09, 1.77, 1.84, 1.55, 1.39,
           1.31, 1.13, 0.88, 1.06, 0.84, 0.75, 0.99, 1.15, 0.83, 0.66,
           0.70, 0.88, 0.99, 0.95, 1.06, 1.10, 0.99, 0.92, 1.03, 0.95,
           1.08, 1.16, 0.99, 0.74, 0.66, 0.56, 0.75, 0.88, 0.99, 0.92,
           0.94, 0.86, 0.95, 1.10, 1.26, 0.95, 0.81, 0.66, 0.88, 0.70,
           0.55,
           0.69, 0.78, 0.71, 0.80, 0.76, 0.86, 0.91, 0.86, 0.87, 0.84,
           0.80, 0.76, 0.84, 0.91, 0.98, 0.95, 0.96, 0.93, 0.96, 0.91,
           0.95, 0.84, 0.96, 1.00, 1.03, 0.98, 0.91, 0.84, 0.75, 0.80,
           0.84, 0.87, 0.89, 0.84, 0.80, 0.78, 0.81, 0.83, 0.82, 0.80,
           0.78, 0.77, 0.76, 0.75, 0.73, 0.71, 0.69, 0.73, 0.67, 0.75,
           0.84, 0.82, 0.76, 0.73, 0.76, 0.75, 0.73, 0.78, 0.75, 0.71,
           0.80, 0.76, 0.73, 0.75, 0.73, 0.69, 0.71, 0.68, 0.71, 0.69,
           0.66, 0.73, 0.78, 0.75, 0.76, 0.73, 0.69, 0.67, 0.66, 0.64,
           0.66, 0.75, 0.69, 0.67, 0.69, 0.71, 0.67, 0.64, 0.69, 0.68,
           0.71, 0.69, 0.67, 0.66, 0.69, 0.67, 0.69, 0.71, 0.68, 0.69,
           0.73, 0.75, 0.73, 0.76, 0.75, 0.78, 0.76, 0.75, 0.71, 0.69,
           0.67, 0.69, 0.67, 0.69, 0.66, 0.60, 0.73, 0.88, 0.80, 0.75,
           0.71, 0.69, 0.66, 0.69, 0.60, 0.66, 0.62, 0.66, 0.69, 0.73,
           0.75, 0.76, 0.78, 0.83, 0.78, 0.75, 0.76, 0.73, 0.75, 0.76,
           0.78, 0.82, 0.84, 0.78, 0.80, 0.78, 0.80, 0.76, 0.77, 0.76,
           0.75, 0.73, 0.71, 0.69, 0.71, 0.67, 0.66, 0.64, 0.63, 0.62,
           0.60, 0.59, 0.58, 0.57, 0.58]

# ---------------- styling ----------------
NAVY = '#0b2a40'
SLIP = '#22cbad'
LOESS = '#1a8fd0'
DEPTH = '#1a5fe3'
TICK = '#555555'

fig = plt.figure(figsize=(13.46, 9.48), dpi=100)

ax_at = fig.add_axes([0.0669, 0.5359, 0.4235, 0.4367])
ax_ab = fig.add_axes([0.0669, 0.0918, 0.4235, 0.4367])
ax_bt = fig.add_axes([0.5639, 0.5359, 0.4235, 0.4367])
ax_bb = fig.add_axes([0.5639, 0.0918, 0.4235, 0.4367])


def style(ax, xlim, ylim, ymaj, ymin, yfmt, hour, show_x):
    ax.set_xlim(*xlim)
    ax.set_ylim(*ylim)
    ax.xaxis.set_major_locator(MultipleLocator(5))
    ax.xaxis.set_minor_locator(MultipleLocator(2.5))
    ax.yaxis.set_major_locator(MultipleLocator(ymaj))
    ax.yaxis.set_minor_locator(MultipleLocator(ymin))
    ax.yaxis.set_major_formatter(FormatStrFormatter(yfmt))
    ax.grid(which='major', color='#a0a0a0', lw=1.3)
    ax.grid(which='minor', color='#dfdfdf', lw=1.1)
    ax.set_axisbelow(True)
    ax.tick_params(which='both', length=0, labelsize=10, labelcolor=TICK, pad=7)
    for s in ax.spines.values():
        s.set_linewidth(1.6)
        s.set_color('#111111')
    if show_x:
        ax.xaxis.set_major_formatter(FuncFormatter(lambda v, p: f"{hour}:{int(round(v)):02d}:00"))
        plt.setp(ax.get_xticklabels(), rotation=45, ha='right', rotation_mode='anchor')
        ax.set_xlabel('Time (UTC)', fontsize=12.5, fontweight='bold')
        ax.xaxis.set_label_coords(0.5, -0.135)
        ax.set_ylabel('Flow Depth [m]', fontsize=12, fontweight='bold')
        ax.yaxis.set_label_coords(-0.066, 0.5)
    else:
        ax.tick_params(axis='x', labelbottom=False)


style(ax_at, (2.40, 35.28), (-0.09, 6.0), 1, 0.5, '%d', 12, False)
style(ax_ab, (2.40, 35.28), (0, 2.24), 0.5, 0.25, '%.1f', 12, True)
style(ax_bt, (21.96, 55.20), (-0.08, 8.0), 1, 0.5, '%d', 18, False)
style(ax_bb, (21.96, 55.20), (0, 2.24), 0.5, 0.25, '%.1f', 18, True)


def slip_runs(ax, runs, extra_t, extra_v):
    for vals, span in runs:
        ax.scatter(np.linspace(span[0], span[1], len(vals)), vals, s=15, color=SLIP,
                   alpha=0.6, edgecolors='none', zorder=2)
    ax.scatter(extra_t, extra_v, s=15, color=SLIP, alpha=0.75, edgecolors='none', zorder=2)


# ---- panel (a) velocities
slip_runs(ax_at, [(a_slip1, a_slip1_span), (a_slip2, a_slip2_span)], a_slip_x_t, a_slip_x)
ax_at.plot(a_loess_t, a_loess, color=LOESS, lw=1.9, zorder=3)
ax_at.plot(a_sv_t, a_sv, color=NAVY, lw=2.0, zorder=4)
ax_at.axhline(0, color='black', lw=1.2, ls=(0, (4, 3)), zorder=5)

# ---- panel (b) velocities
slip_runs(ax_bt, [(b_slip1, b_slip1_span), (b_slip2, b_slip2_span), (b_slip3, b_slip3_span),
                  (b_slip4, b_slip4_span), (b_slip5, b_slip5_span), (b_slip6, b_slip6_span)],
          b_slip_x_t, b_slip_x)
for t, v in [(b_loess1_t, b_loess1), (b_loess2_t, b_loess2), (b_loess3_t, b_loess3)]:
    ax_bt.plot(t, v, color=LOESS, lw=1.9, zorder=3)
ax_bt.plot(b_sv_t, b_sv, color=NAVY, lw=2.0, zorder=4)
ax_bt.axhline(0, color='black', lw=1.2, ls=(0, (4, 3)), zorder=5)

# ---- flow depth
ax_ab.plot(a_depth_t, a_depth, color=DEPTH, lw=1.7)
ax_bb.plot(b_depth_t, b_depth, color=DEPTH, lw=1.7)

# ---- legends
handles = [Line2D([], [], marker='o', ls='', color='#8ee6d8', markersize=8),
           Line2D([], [], color=LOESS, lw=3.5),
           Line2D([], [], color=NAVY, lw=3.5)]
labels = ['Slip Velocity Estimates (Rolling Median)', 'Slip Velocity (LOESS)', 'Surface Velocity']
for ax in (ax_at, ax_bt):
    leg = ax.legend(handles, labels, loc='upper right', bbox_to_anchor=(0.984, 0.983),
                    borderaxespad=0, fontsize=8.6, labelspacing=1.75, handlelength=1.3,
                    handletextpad=1.4, borderpad=0.75, fancybox=False, framealpha=1,
                    edgecolor='#111111')
    leg.get_frame().set_linewidth(1.0)
    leg.set_zorder(10)

# ---- stacked y labels of the velocity panels
for x0 in (0.0, 670 / 1346):
    fig.text(0.0245 + x0, 0.749, 'Surface Velocity', rotation=90, color=NAVY,
             fontsize=11.2, ha='center', va='center', family='Open Sans')
    fig.text(0.0386 + x0, 0.724, 'Slip Velocity Estimates', rotation=90, color=SLIP,
             fontsize=11.2, ha='center', va='center', family='Open Sans')
    fig.text(0.0312 + x0, 0.840, r'[m s$^{\mathregular{-1}}$]', rotation=90, color=NAVY,
             fontsize=11.2, ha='center', va='center', family='Open Sans')

fig.text(0.0238, 0.962, '(a)', fontsize=20, ha='center', va='center', family='Open Sans')
fig.text(0.5215, 0.962, '(b)', fontsize=20, ha='center', va='center', family='Open Sans')

# ---- outer frame of the two panels
for xs, ys in [((7 / 1346, 7 / 1346), (0, 1 - 7 / 948)),
               ((675.5 / 1346, 675.5 / 1346), (0, 1 - 7 / 948)),
               ((1344.5 / 1346, 1344.5 / 1346), (0, 1 - 7 / 948)),
               ((7 / 1346, 1344.5 / 1346), (1 - 7 / 948, 1 - 7 / 948))]:
    fig.add_artist(Line2D(xs, ys, transform=fig.transFigure, color='#222222', lw=1.5))

fig.savefig('out.png', dpi=100)
